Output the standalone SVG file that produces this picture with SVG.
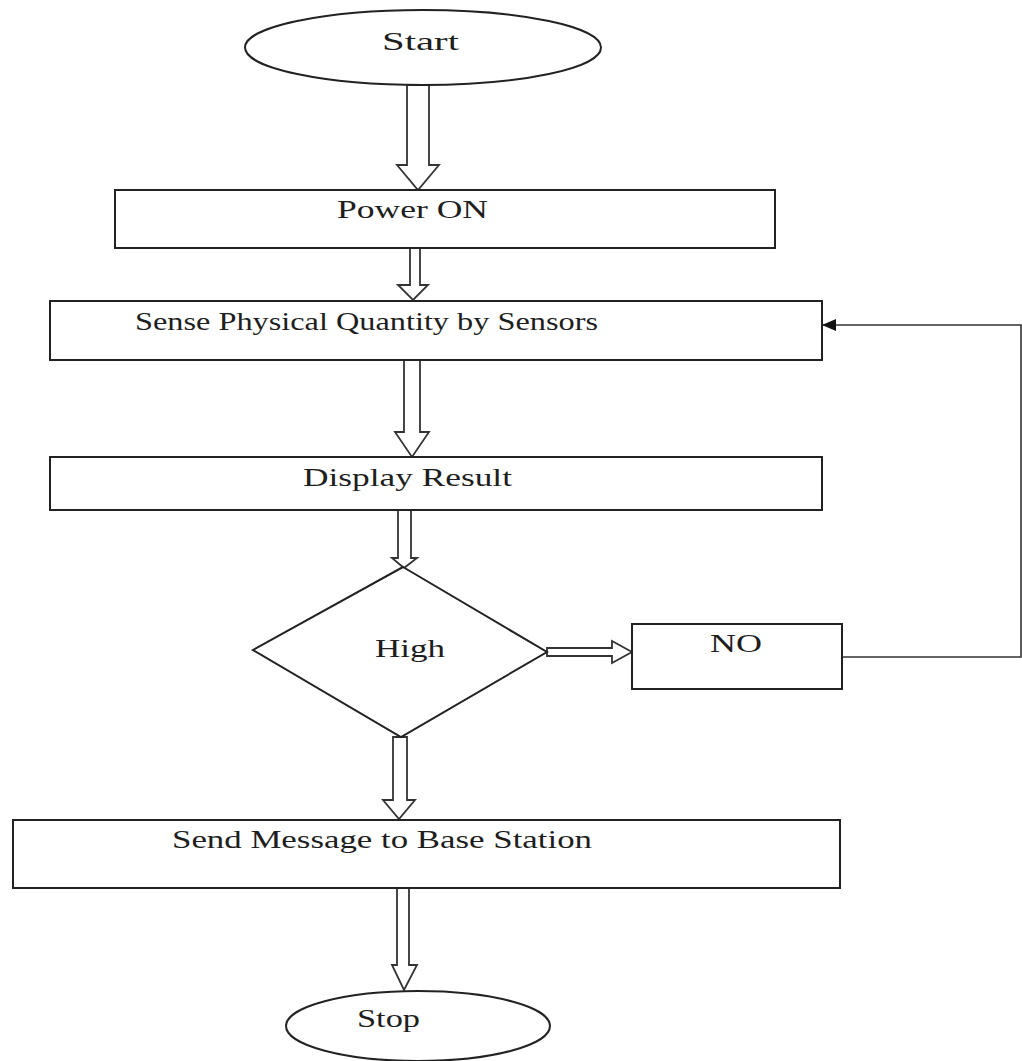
<svg xmlns="http://www.w3.org/2000/svg" width="1022" height="1061" viewBox="0 0 1022 1061">
<style>
.shape{fill:#fff;stroke:#222;stroke-width:2}
.barrow{fill:#fff;stroke:#333;stroke-width:1.8;stroke-linejoin:miter}
.lbl{font-family:"Liberation Serif","Times New Roman",serif;fill:#1e1e1e;font-size:25px}
.line{fill:none;stroke:#333;stroke-width:1.6}
</style>
<defs>
<marker id="ah" markerWidth="14" markerHeight="12" refX="13" refY="6" orient="auto" markerUnits="userSpaceOnUse">
<path d="M0,0 L14,6 L0,12 Z" fill="#111"/>
</marker>
</defs>
<rect width="1022" height="1061" fill="#fff"/>
<g id="connectors">
<polygon class="barrow" points="407,85 429,85 429,165 439,165 418,190 397,165 407,165"/>
<polygon class="barrow" points="410,248 420,248 420,285 428,285 413,300 398,285 410,285"/>
<polygon class="barrow" points="404,360 420,360 420,432 429,432 412,457 395,432 404,432"/>
<polygon class="barrow" points="398,510 411,510 411,558 417,558 404,568 392,558 398,558"/>
<polygon class="barrow" points="547,648 612,648 612,641 632,652 612,663 612,656 547,656"/>
<polygon class="barrow" points="393,737 407,737 407,800 415,800 399,819 383,800 393,800"/>
<polygon class="barrow" points="397,888 409,888 409,965 417,965 404,990 392,965 397,965"/>
<polyline class="line" points="842,657 1021,657 1021,325 823,325" marker-end="url(#ah)"/>
</g>
<g id="start">
<ellipse class="shape" cx="423" cy="47.5" rx="178" ry="37.5"/>
<text class="lbl" x="382" y="50" textLength="77" lengthAdjust="spacingAndGlyphs">Start</text>
</g>
<g id="power">
<rect class="shape" x="115" y="190" width="660" height="58"/>
<text class="lbl" x="337" y="218" textLength="151" lengthAdjust="spacingAndGlyphs">Power ON</text>
</g>
<g id="sense">
<rect class="shape" x="50" y="301" width="772" height="59"/>
<text class="lbl" x="135" y="330" textLength="463" lengthAdjust="spacingAndGlyphs">Sense Physical Quantity by Sensors</text>
</g>
<g id="display">
<rect class="shape" x="50" y="457" width="772" height="53"/>
<text class="lbl" x="303" y="486" textLength="209" lengthAdjust="spacingAndGlyphs">Display Result</text>
</g>
<g id="high">
<polygon class="shape" points="403,567 547,652 401,737 253,650"/>
<text class="lbl" x="375" y="657" font-size="22" textLength="70" lengthAdjust="spacingAndGlyphs">High</text>
</g>
<g id="no">
<rect class="shape" x="632" y="624" width="210" height="65"/>
<text class="lbl" x="710" y="652" font-size="21" textLength="52" lengthAdjust="spacingAndGlyphs">NO</text>
</g>
<g id="send">
<rect class="shape" x="13" y="820" width="827" height="68"/>
<text class="lbl" x="172" y="848" font-size="24" textLength="420" lengthAdjust="spacingAndGlyphs">Send Message to Base Station</text>
</g>
<g id="stop">
<ellipse class="shape" cx="418" cy="1026" rx="132" ry="35"/>
<text class="lbl" x="357" y="1027" font-size="21" textLength="63" lengthAdjust="spacingAndGlyphs">Stop</text>
</g>
</svg>
